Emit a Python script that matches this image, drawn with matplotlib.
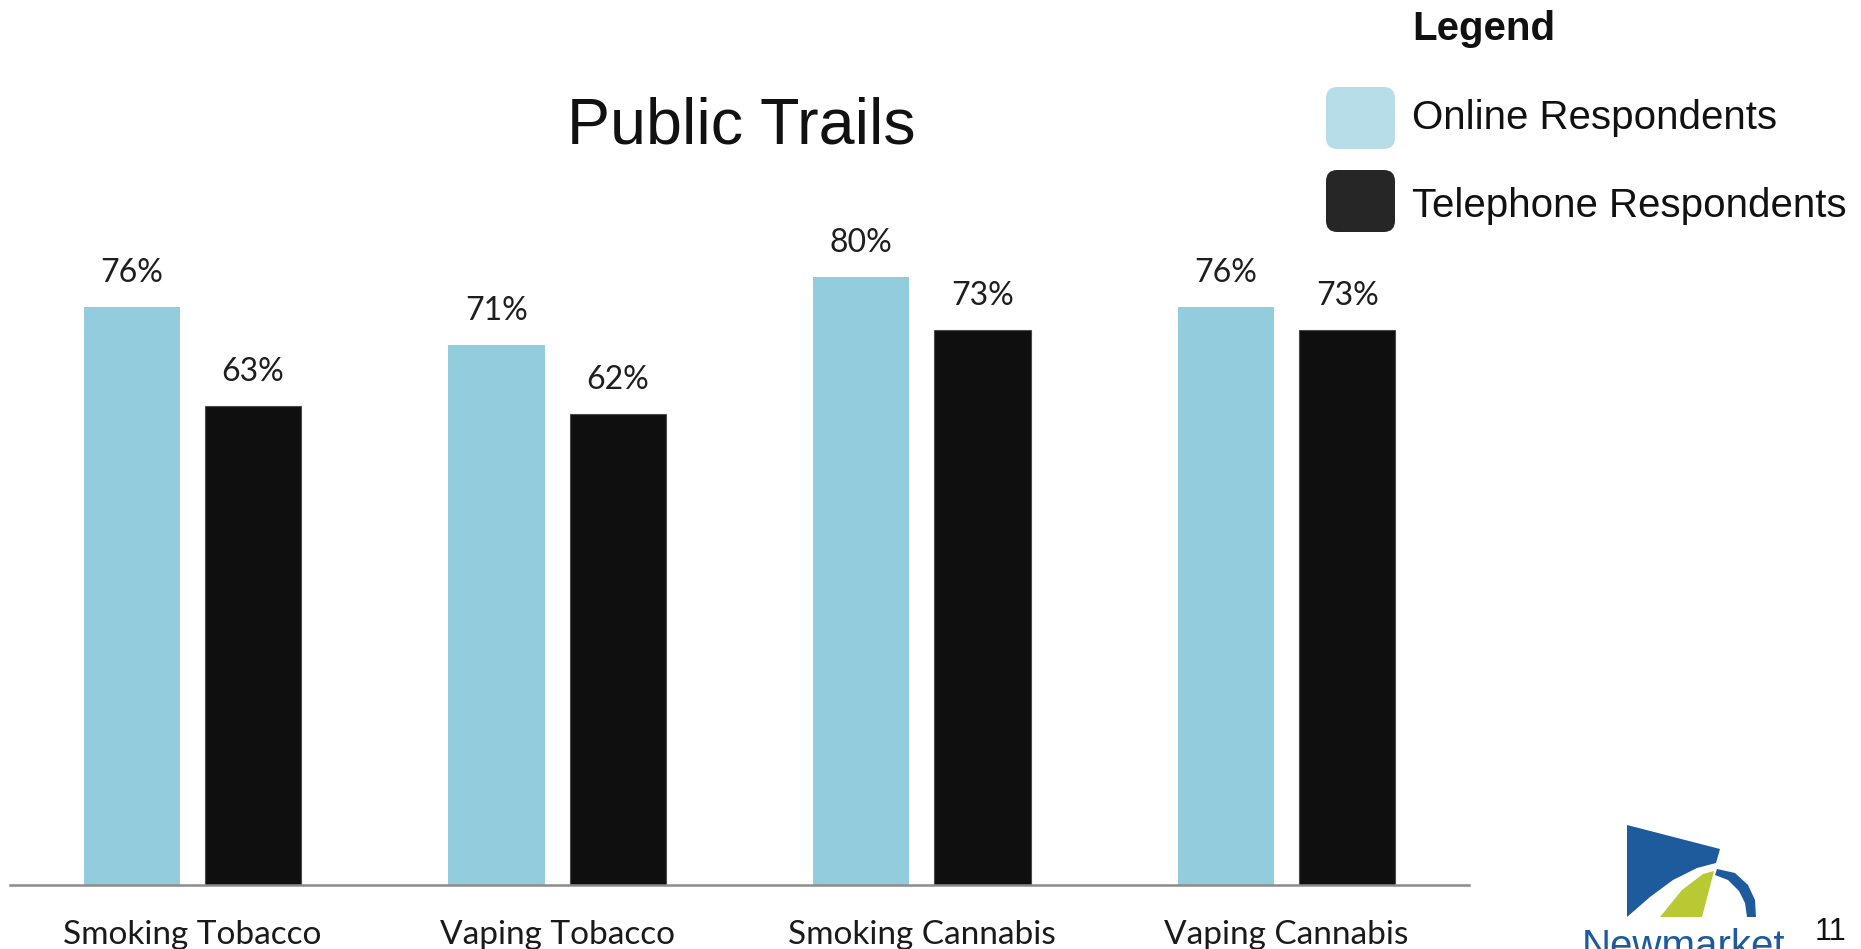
import numpy as np
import matplotlib.pyplot as plt
from matplotlib.patches import FancyBboxPatch, Polygon

# data
categories = ["Smoking Tobacco", "Vaping Tobacco", "Smoking Cannabis", "Vaping Cannabis"]
online = [76, 71, 80, 76]
telephone = [63, 62, 73, 73]
series_names = ["Online Respondents", "Telephone Respondents"]

W, H = 1861, 949
fig = plt.figure(figsize=(W / 100, H / 100), dpi=100)

# axes placed in pixel terms of the reference
ax = fig.add_axes([10 / W, (H - 885) / H, 1459 / W, 760 / H])

x = np.arange(len(categories))
bw = 0.264
b1 = ax.bar(x - 0.166, online, bw, color='#93cddd')
b2 = ax.bar(x + 0.166, telephone, bw, color='#0f0f0f', edgecolor='#4a4a4a', linewidth=0.8)

for bars, vals in [(b1, online), (b2, telephone)]:
    for rect, v in zip(bars, vals):
        ax.annotate(f"{v}%", (rect.get_x() + rect.get_width() / 2, v),
                    xytext=(0, 18), textcoords='offset points',
                    ha='center', va='baseline', fontsize=23,
                    family='Lato', color='#1e1e1e')

ax.set_xlim(-0.5, 3.5)
ax.set_ylim(0, 100)
ax.set_xticks(x)
ax.set_xticklabels(categories, fontsize=24, family='Lato', color='#1a1a1a')
ax.tick_params(axis='x', length=0, pad=25)
ax.set_yticks([])
for s in ['top', 'left', 'right']:
    ax.spines[s].set_visible(False)
ax.spines['bottom'].set_color('#8c8c8c')
ax.spines['bottom'].set_linewidth(1.8)

# title
fig.text(741 / W, (H - 143) / H, "Public Trails", ha='center', va='baseline',
         fontsize=46.5, family='Liberation Sans', color='#111111')

# legend, drawn by hand
fig.text(1412 / W, (H - 40) / H, "Legend", ha='left', va='baseline',
         fontsize=29, fontweight='bold', family='Liberation Sans', color='#111111')
sw_colors = ['#b7dde8', '#262626']
sw_centers = [118, 201]
txt_centers = [118, 206]
for name, c, cy, ty in zip(series_names, sw_colors, sw_centers, txt_centers):
    box = FancyBboxPatch((1326 / W, (H - cy - 31) / H), 69 / W, 62 / H,
                         boxstyle="round,pad=0,rounding_size=0.006",
                         transform=fig.transFigure, facecolor=c, edgecolor='none',
                         mutation_aspect=W / H)
    fig.patches.append(box)
    fig.text(1412 / W, (H - ty) / H, name, ha='left', va='center',
             fontsize=29, family='Liberation Sans', color='#111111')

# logo (Newmarket) and page number
def px(pts):
    return [(px_ / W, (H - py_) / H) for px_, py_ in pts]

logo_blue = '#1d5b9c'
fig.patches.append(Polygon(px([(1627, 825), (1720, 849), (1716, 863), (1697, 868),
                               (1673, 880), (1650, 897), (1627, 917)]),
                           closed=True, transform=fig.transFigure,
                           facecolor=logo_blue, edgecolor='none'))
fig.patches.append(Polygon(px([(1660, 917), (1682, 890), (1703, 874), (1714, 871),
                               (1702, 917)]),
                           closed=True, transform=fig.transFigure,
                           facecolor='#b9c934', edgecolor='none'))
fig.patches.append(Polygon(px([(1717, 869), (1735, 873), (1748, 885), (1755, 900),
                               (1756, 917), (1747, 917), (1745, 903), (1739, 891),
                               (1728, 880), (1715, 875)]),
                           closed=True, transform=fig.transFigure,
                           facecolor=logo_blue, edgecolor='none'))
fig.text(1582 / W, (H - 958) / H, "Newmarket", ha='left', va='baseline',
         fontsize=29, family='Liberation Sans', color=logo_blue)
fig.text(1815 / W, (H - 940) / H, "11", ha='left', va='baseline',
         fontsize=22, family='Liberation Sans', color='#111111')

fig.savefig('out.png', dpi=100, facecolor='white')
